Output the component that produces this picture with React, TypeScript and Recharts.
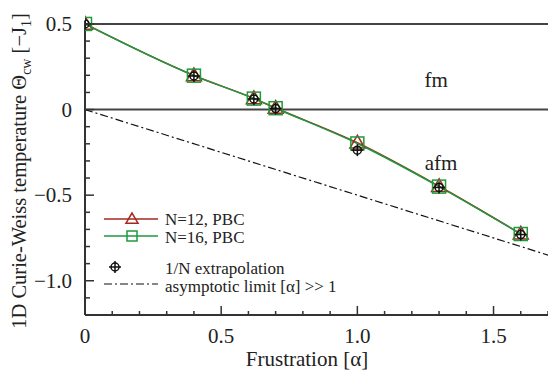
import { ComposedChart, Line, XAxis, YAxis, ReferenceLine, ReferenceDot, Legend, Label } from 'recharts';

// frustration values where the chains were computed
const alphas = [0, 0.4, 0.62, 0.7, 1.0, 1.3, 1.6];
const thetaN12 = [0.5, 0.199, 0.065, 0.009, -0.194, -0.448, -0.726];
const thetaN16 = [0.5, 0.198, 0.064, 0.008, -0.198, -0.45, -0.727];
const thetaExtrap = [0.5, 0.196, 0.062, 0.006, -0.237, -0.455, -0.73];

// asymptotic limit line (end points)
const asymAlpha = [0, 1.7];
const asymTheta = [0, -0.85];

const xMajorTicks = [0, 0.5, 1.0, 1.5];
const xTickLabels = ['0', '0.5', '1.0', '1.5'];
const xMinorTicks = [0.1, 0.2, 0.3, 0.4, 0.6, 0.7, 0.8, 0.9, 1.1, 1.2, 1.3, 1.4, 1.6, 1.7];
const yMajorTicks = [0.5, 0, -0.5, -1.0];
const yTickLabels = ['0.5', '0', '−0.5', '−1.0'];
const yMinorTicks = [0.4, 0.3, 0.2, 0.1, -0.1, -0.2, -0.3, -0.4, -0.6, -0.7, -0.8, -0.9, -1.1];

const n12 = alphas.map((a, i) => ({ alpha: a, theta: thetaN12[i] }));
const n16 = alphas.map((a, i) => ({ alpha: a, theta: thetaN16[i] }));
const extrap = alphas.map((a, i) => ({ alpha: a, theta: thetaExtrap[i] }));
const asym = asymAlpha.map((a, i) => ({ alpha: a, theta: asymTheta[i] }));

const FONT = "'Liberation Serif', 'DejaVu Serif', Times, serif";
const AXIS = '#333';
const TEXT = '#222';
const RED = '#a3281f';
const GREEN = '#1e9a3c';
const PLOT_LEFT = 85;
const PLOT_BOTTOM = 315;
const txt = { fontFamily: FONT };

const Triangle = ({ cx, cy, s = 7.5 }: any) => (
  <polygon
    points={`${cx},${cy - s} ${cx - s},${cy + s * 0.7} ${cx + s},${cy + s * 0.7}`}
    fill="none"
    stroke={RED}
    strokeWidth={1.5}
  />
);

const Square = ({ cx, cy, s = 6.5 }: any) => (
  <rect x={cx - s} y={cy - s} width={s * 2} height={s * 2} fill="none" stroke={GREEN} strokeWidth={1.5} />
);

const CrossCircle = ({ cx, cy }: any) => (
  <g stroke="#111" strokeWidth={1.5} fill="none">
    <circle cx={cx} cy={cy} r={4} />
    <line x1={cx - 6} x2={cx + 6} y1={cy} y2={cy} />
    <line x1={cx} x2={cx} y1={cy - 6} y2={cy + 6} />
  </g>
);

const XTick = (props: any) => {
  const { x, payload } = props;
  const i = xMajorTicks.indexOf(payload.value);
  return (
    <g>
      <line x1={x} x2={x} y1={PLOT_BOTTOM} y2={PLOT_BOTTOM - (i >= 0 ? 9 : 4)} stroke={AXIS} strokeWidth={1.5} />
      {i >= 0 && (
        <text x={x} y={PLOT_BOTTOM + 21} textAnchor="middle" dominantBaseline="central" fontSize={21} style={txt} fill={TEXT}>
          {xTickLabels[i]}
        </text>
      )}
    </g>
  );
};

const YTick = (props: any) => {
  const { y, payload } = props;
  const i = yMajorTicks.indexOf(payload.value);
  return (
    <g>
      <line x1={PLOT_LEFT} x2={PLOT_LEFT + (i >= 0 ? 9 : 5)} y1={y} y2={y} stroke={AXIS} strokeWidth={1.5} />
      {i >= 0 && (
        <text x={72} y={y} textAnchor="end" dominantBaseline="central" fontSize={21} style={txt} fill={TEXT}>
          {yTickLabels[i]}
        </text>
      )}
    </g>
  );
};

const YLabel = () => (
  <text transform="translate(26,171) rotate(-90)" textAnchor="middle" fontSize={20.5} style={txt} fill={TEXT}>
    1D Curie-Weiss temperature Θ
    <tspan dy={5} fontSize={14}>cw</tspan>
    <tspan dy={-5}> [−J</tspan>
    <tspan dy={5} fontSize={14}>1</tspan>
    <tspan dy={-5}>]</tspan>
  </text>
);

const LegendContent = () => (
  <svg width={320} height={92} style={{ display: 'block' }}>
    <g fontSize={17} fill={TEXT} style={txt}>
      <line x1={4} x2={58} y1={14} y2={14} stroke={RED} strokeWidth={1.5} />
      <Triangle cx={32} cy={14} s={6} />
      <text x={65} y={14} dominantBaseline="central">N=12, PBC</text>

      <line x1={4} x2={58} y1={31} y2={31} stroke={GREEN} strokeWidth={1.5} />
      <Square cx={32} cy={31} s={5} />
      <text x={65} y={32} dominantBaseline="central">N=16, PBC</text>

      <CrossCircle cx={15} cy={62} />
      <text x={65} y={63} dominantBaseline="central">1/N extrapolation</text>

      <line x1={4} x2={58} y1={79} y2={79} stroke="#111" strokeWidth={1.2} strokeDasharray="8 3 2 3" />
      <text x={65} y={81} dominantBaseline="central">asymptotic limit [α] &gt;&gt; 1</text>
    </g>
  </svg>
);

export default function App() {
  return (
    <div style={{ position: 'absolute', left: 0, top: 0, background: '#fff', fontFamily: FONT }}>
      <ComposedChart width={548} height={374} margin={{ top: 0, right: 0, bottom: 0, left: 0 }}>
        <XAxis
          dataKey="alpha"
          type="number"
          domain={[0, 1.7]}
          allowDataOverflow
          ticks={[...xMajorTicks, ...xMinorTicks]}
          interval={0}
          tick={XTick}
          tickLine={false}
          axisLine={{ stroke: AXIS, strokeWidth: 2 }}
          height={59}
        >
          <Label
            content={() => (
              <text x={307} y={359} textAnchor="middle" dominantBaseline="central" fontSize={21} style={txt} fill={TEXT}>
                Frustration [α]
              </text>
            )}
          />
        </XAxis>
        <YAxis
          type="number"
          domain={[-1.2, 0.64]}
          allowDataOverflow
          ticks={[...yMajorTicks, ...yMinorTicks]}
          interval={0}
          tick={YTick}
          tickLine={false}
          axisLine={false}
          width={85}
        >
          <Label content={YLabel} />
        </YAxis>

        <ReferenceLine segment={[{ x: 0, y: 0.52 }, { x: 0, y: -1.2 }]} stroke={AXIS} strokeWidth={2} />
        <ReferenceLine y={0.5} stroke="#444" strokeWidth={2} />
        <ReferenceLine y={0} stroke="#444" strokeWidth={2} />

        <Line data={asym} dataKey="theta" stroke="#111" strokeWidth={1.2} strokeDasharray="8 3 2 3" dot={false} isAnimationActive={false} />
        <Line
          data={n12}
          dataKey="theta"
          type="monotone"
          stroke={RED}
          strokeWidth={1.5}
          dot={(p: any) => <Triangle key={`t${p.index}`} cx={p.cx} cy={p.cy} />}
          isAnimationActive={false}
        />
        <Line
          data={n16}
          dataKey="theta"
          type="monotone"
          stroke={GREEN}
          strokeWidth={1.5}
          dot={(p: any) => <Square key={`s${p.index}`} cx={p.cx} cy={p.cy} />}
          isAnimationActive={false}
        />
        <Line
          data={extrap}
          dataKey="theta"
          stroke="none"
          dot={(p: any) => <CrossCircle key={`c${p.index}`} cx={p.cx} cy={p.cy} />}
          isAnimationActive={false}
        />

        <ReferenceDot x={1.289} y={0.173} r={0} fill="none" stroke="none" label={{ value: 'fm', position: 'center', fontSize: 21, style: txt, fill: TEXT }} />
        <ReferenceDot x={1.307} y={-0.312} r={0} fill="none" stroke="none" label={{ value: 'afm', position: 'center', fontSize: 21, style: txt, fill: TEXT }} />

        <Legend layout="vertical" align="center" verticalAlign="middle" wrapperStyle={{ left: 100, top: 205, width: 320 }} content={LegendContent} />
      </ComposedChart>
    </div>
  );
}
